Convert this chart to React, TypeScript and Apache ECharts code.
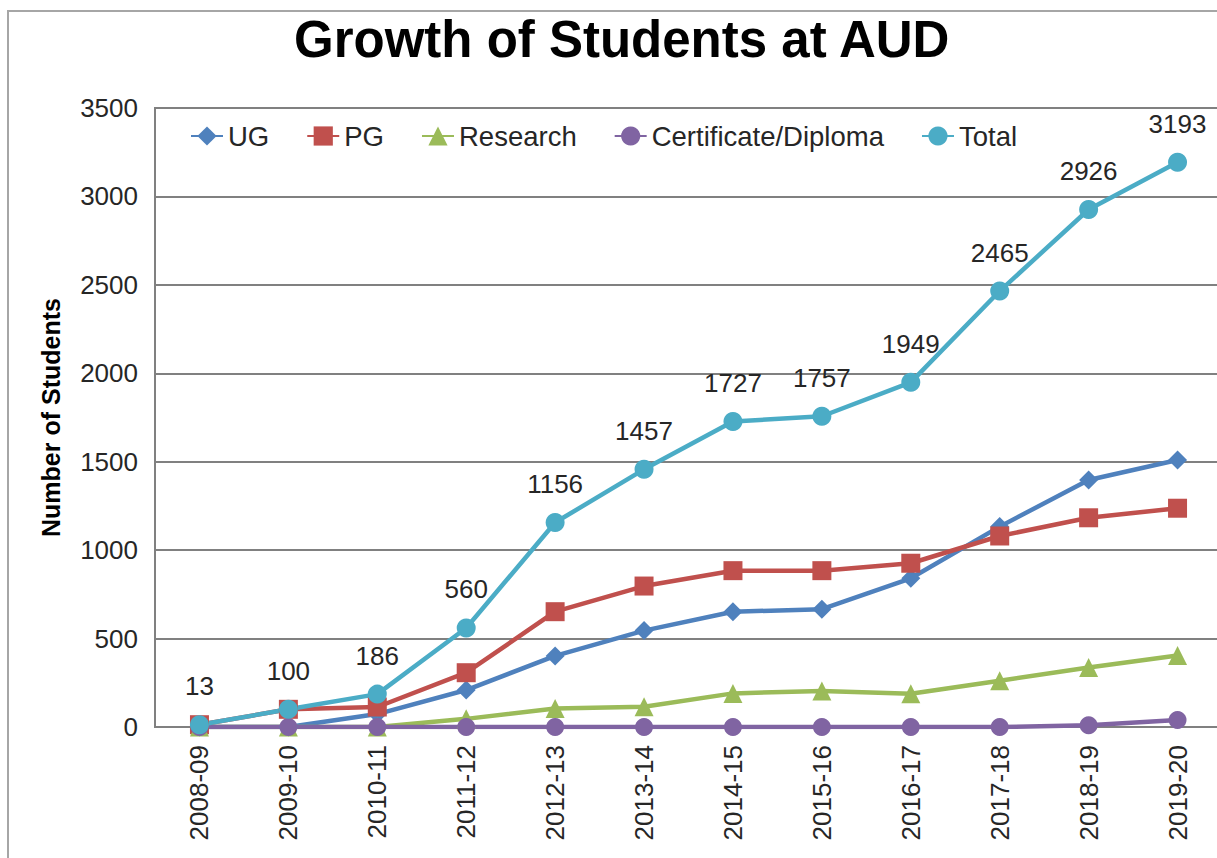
import React, { useEffect, useRef } from "react";
import * as echarts from "echarts";

const categories = ["2008-09", "2009-10", "2010-11", "2011-12", "2012-13", "2013-14", "2014-15", "2015-16", "2016-17", "2017-18", "2018-19", "2019-20"];
const ugValues = [0, 0, 73, 209, 402, 545, 652, 666, 841, 1133, 1397, 1510];
const pgValues = [13, 100, 113, 307, 652, 797, 884, 884, 926, 1080, 1183, 1237];
const researchValues = [0, 0, 0, 46, 104, 115, 190, 204, 188, 262, 336, 404];
const certValues = [0, 0, 0, 0, 0, 0, 0, 0, 0, 0, 10, 40];
const totalValues = [13, 100, 186, 560, 1156, 1457, 1727, 1757, 1949, 2465, 2926, 3193];
const seriesNames = ["UG", "PG", "Research", "Certificate/Diploma", "Total"];

const FONT = "'Liberation Sans', Arial, Helvetica, sans-serif";

export default function App() {
  const ref = useRef<HTMLDivElement>(null);
  useEffect(() => {
    if (!ref.current) return;
    const chart = echarts.init(ref.current, null, { renderer: "svg" });
    const mk = (name: string, data: number[], color: string, symbol: string, size: number, extra: any = {}) => ({
      name,
      type: "line",
      data,
      symbol,
      symbolSize: size,
      itemStyle: { color },
      lineStyle: { color, width: 4.5 },
      ...extra,
    });
    chart.setOption({
      animation: false,
      backgroundColor: "#ffffff",
      textStyle: { fontFamily: FONT },
      graphic: [
        {
          type: "rect",
          shape: { x: 8, y: 11, width: 1400, height: 1200 },
          style: { fill: "none", stroke: "#a6a6a6", lineWidth: 2 },
          silent: true,
        },
      ],
      title: {
        text: "Growth of Students at AUD",
        left: 289,
        top: 9,
        textStyle: { fontFamily: FONT, fontSize: 51, fontWeight: "bold", color: "#000000" },
      },
      legend: {
        data: seriesNames,
        left: 190,
        top: 122,
        padding: 0,
        itemGap: 37,
        itemWidth: 32,
        itemHeight: 24,
        textStyle: { fontFamily: FONT, fontSize: 27.5, color: "#262626" },
      },
      grid: {
        left: 155,
        top: 108,
        right: 38,
        bottom: 173,
        show: true,
        borderColor: "#808080",
        borderWidth: 2,
      },
      xAxis: {
        type: "category",
        data: categories,
        boundaryGap: true,
        axisLine: { lineStyle: { color: "#808080", width: 2 } },
        axisTick: { show: false },
        axisLabel: { rotate: 90, margin: 18, fontFamily: FONT, fontSize: 26, color: "#262626", interval: 0 },
      },
      yAxis: {
        type: "value",
        min: 0,
        max: 3500,
        interval: 500,
        name: "Number of Students",
        nameLocation: "middle",
        nameGap: 92,
        nameTextStyle: { fontFamily: FONT, fontSize: 25, fontWeight: "bold", color: "#000000" },
        axisLine: { show: true, lineStyle: { color: "#808080", width: 2 } },
        axisTick: { show: false },
        axisLabel: {
          margin: 17,
          fontFamily: FONT,
          fontSize: 26,
          color: "#262626",
          formatter: (v: number) => String(v),
        },
        splitLine: { lineStyle: { color: "#808080", width: 2 } },
      },
      series: [
        mk(seriesNames[0], ugValues, "#4F81BD", "diamond", 19),
        mk(seriesNames[1], pgValues, "#C0504D", "rect", 19),
        mk(seriesNames[2], researchValues, "#9BBB59", "triangle", 19),
        mk(seriesNames[3], certValues, "#8064A2", "circle", 18),
        mk(seriesNames[4], totalValues, "#4BACC6", "circle", 19, {
          label: {
            show: true,
            position: "top",
            distance: 16,
            fontFamily: FONT,
            fontSize: 26,
            color: "#262626",
          },
        }),
      ],
    });
    return () => chart.dispose();
  }, []);
  return (
    <div style={{ position: "fixed", left: 0, top: 0, width: 1217, height: 858, overflow: "hidden", background: "#fff" }}>
      <div ref={ref} style={{ width: 1260, height: 900 }} />
    </div>
  );
}
